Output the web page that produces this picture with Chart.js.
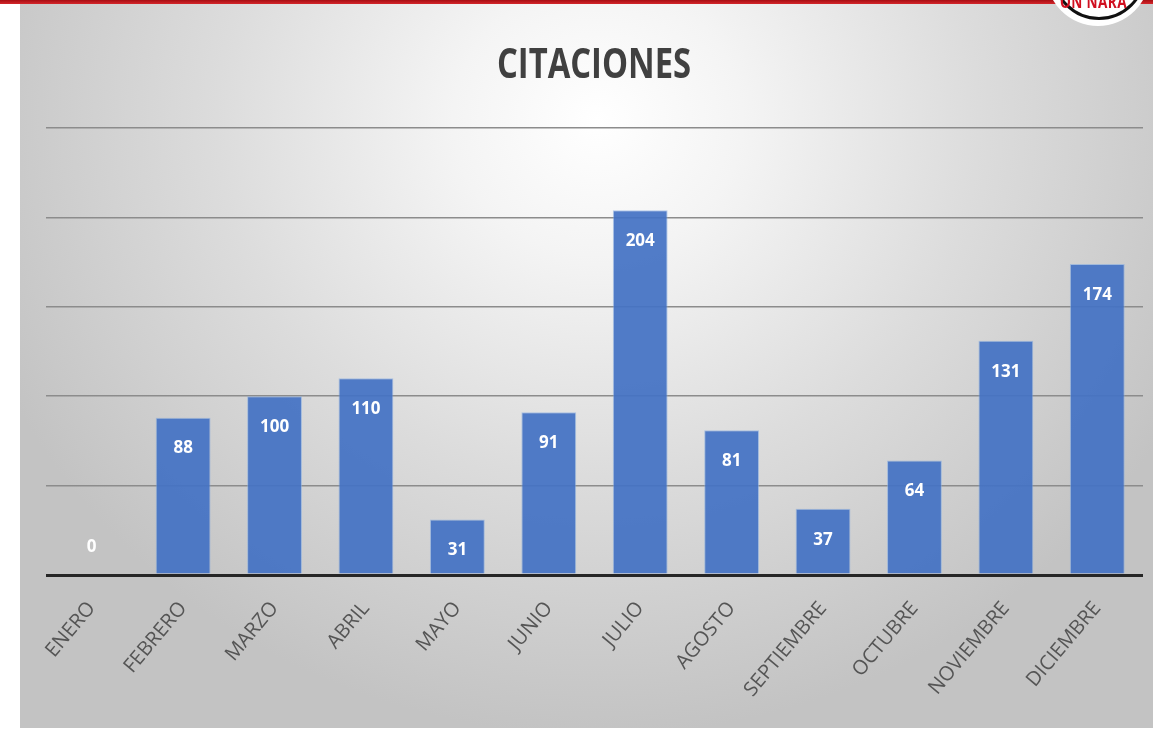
<!DOCTYPE html>
<html>
<head>
<meta charset="utf-8">
<script src="https://cdn.jsdelivr.net/npm/chart.js@4"></script>
<style>
  html, body { margin: 0; padding: 0; background: #fff; }
  body { width: 1153px; height: 731px; position: relative; overflow: hidden; }
  .topline { position: absolute; left: 0; top: 0; width: 1153px; height: 4px; background: linear-gradient(#a80d12, #d4262b); }
  .panel {
    position: absolute; left: 20px; top: 4px; width: 1133px; height: 724px;
    background: radial-gradient(ellipse 58% 85% at 51% 16%, #ffffff 0%, #f4f4f4 22%, #dcdcdc 58%, #c3c3c3 100%);
  }
  .title {
    position: absolute; left: 394px; top: 33px; width: 400px; text-align: center;
    font: bold 42px "Open Sans", sans-serif; color: #404040;
    transform: scaleX(0.78); transform-origin: 50% 50%;
  }
  .logo {
    position: absolute; left: 1046px; top: -78px; width: 104px; height: 104px;
    border-radius: 50%; background: #fff;
  }
  .logo .ring {
    position: absolute; left: 6px; top: 4px; width: 88px; height: 88px;
    border-radius: 50%; border: 3px solid #111; background: #fff;
  }
  .logo span {
    position: absolute; left: 14px; top: 68px; font: bold 17px "Open Sans", sans-serif;
    color: #d01020; transform: scaleX(0.8); transform-origin: 0 0; letter-spacing: 0.5px;
  }
</style>
</head>
<body>
<div class="topline"></div>
<div class="panel"><canvas id="citacionesChart"></canvas></div>
<div class="title">CITACIONES</div>
<div class="logo"><div class="ring"></div><span>ON NARA</span></div>
<script>
// datos
const meses = ["ENERO", "FEBRERO", "MARZO", "ABRIL", "MAYO", "JUNIO", "JULIO", "AGOSTO", "SEPTIEMBRE", "OCTUBRE", "NOVIEMBRE", "DICIEMBRE"];
const citaciones = [0, 88, 100, 110, 31, 91, 204, 81, 37, 64, 131, 174];
const yTicks = [0, 50, 100, 150, 200, 250];

const fontFamily = "'Open Sans', sans-serif";

// etiquetas blancas dentro de las barras
const barLabels = {
  id: 'barLabels',
  afterDatasetsDraw(chart) {
    const ctx = chart.ctx;
    const meta = chart.getDatasetMeta(0);
    ctx.save();
    ctx.font = 'bold 17px ' + fontFamily;
    ctx.fillStyle = '#ffffff';
    ctx.textAlign = 'center';
    ctx.textBaseline = 'middle';
    meta.data.forEach((bar, i) => {
      const v = citaciones[i];
      const y = v === 0 ? bar.base - 28 : bar.y + 31;
      ctx.fillText(String(v), bar.x, y);
    });
    ctx.restore();
  }
};

window.addEventListener("DOMContentLoaded", () => {
  const canvas = document.getElementById('citacionesChart');
  new Chart(canvas, {
    type: 'bar',
    data: {
      labels: meses,
      datasets: [{
        label: 'Citaciones',
        data: citaciones,
        backgroundColor: 'rgba(68,114,196,0.93)',
        borderColor: 'rgba(130,170,225,0.6)',
        borderWidth: 1,
        barPercentage: 0.6,
        categoryPercentage: 1.0
      }]
    },
    options: {
      responsive: true,
      maintainAspectRatio: false,
      animation: false,
      layout: { padding: { left: 26, right: 10, top: 124, bottom: 0 } },
      plugins: {
        legend: { display: false },
        tooltip: { enabled: false },
        title: { display: false }
      },
      scales: {
        x: {
          grid: { display: false },
          border: { display: false },
          ticks: {
            color: '#555555',
            font: { family: fontFamily, size: 20 },
            minRotation: 50,
            maxRotation: 50,
            padding: 14
          },
          afterFit: (scale) => { scale.height = 153; }
        },
        y: {
          min: 0,
          max: 250,
          afterBuildTicks: (scale) => { scale.ticks = yTicks.map(v => ({ value: v })); },
          ticks: { display: false },
          border: { display: false },
          grid: {
            drawTicks: false,
            color: (c) => c.tick && c.tick.value === 0 ? '#262626' : '#8c8c8c',
            lineWidth: (c) => c.tick && c.tick.value === 0 ? 3 : 1.5
          }
        }
      }
    },
    plugins: [barLabels]
  });
});
</script>
</body>
</html>
